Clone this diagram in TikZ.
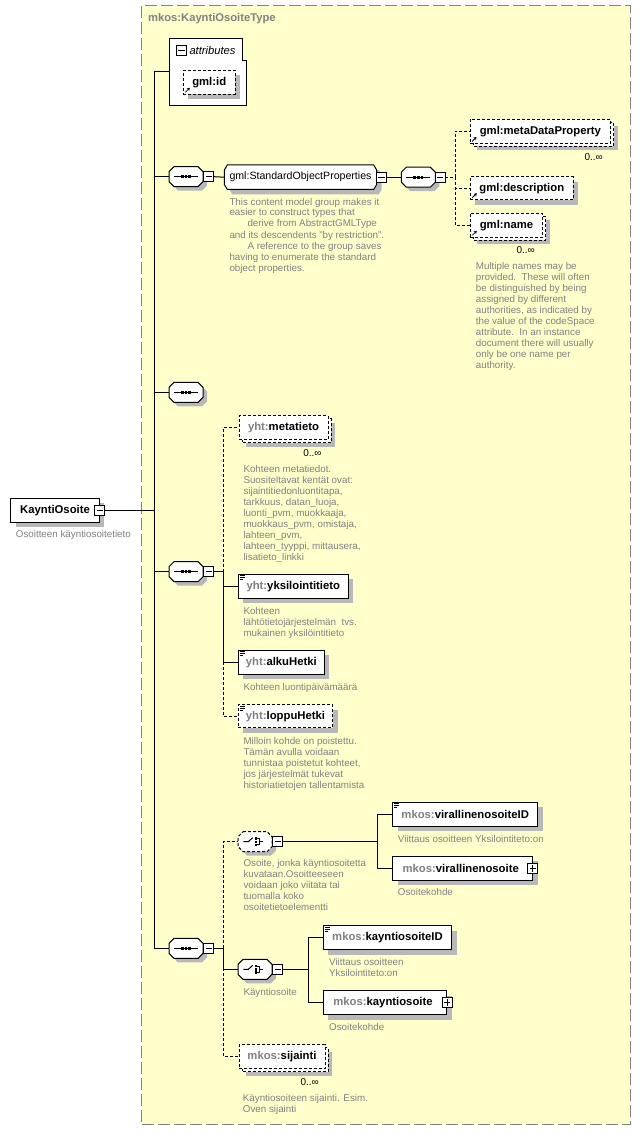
\documentclass[tikz,border=0pt]{standalone}
\usepackage{fontspec}
\setmainfont{Liberation Sans}
\usetikzlibrary{arrows.meta,calc}
\definecolor{bgy}{RGB}{255,255,204}
\definecolor{framec}{RGB}{128,128,128}
\definecolor{pfxc}{RGB}{128,128,128}
\definecolor{descc}{RGB}{128,128,128}
\definecolor{shadowc}{RGB}{184,184,184}
\newcommand\pf[1]{\textcolor{pfxc}{#1}}
% octagon: opts, cx, cy, hw, hh, chx, chy
\newcommand\octo[7]{\path[#1] (#2-#4+#6,#3-#5) -- (#2+#4-#6,#3-#5) -- (#2+#4,#3-#5+#7) -- (#2+#4,#3+#5-#7) -- (#2+#4-#6,#3+#5) -- (#2-#4+#6,#3+#5) -- (#2-#4,#3+#5-#7) -- (#2-#4,#3-#5+#7) -- cycle;}
% compositor: name, cx, cy, extra options
\newcommand\compo[4]{%
  \octo{fill=shadowc}{#2+4}{#3+4}{17}{10}{5}{5}
  \octo{draw,fill=white,line width=1pt,#4}{#2}{#3}{17}{10}{5}{5}
  \node[hid] (#1) at (#2,#3) {};}
% element box with shadow: style, name, cx, cy, w, h, text
\newcommand\elem[7]{%
  \fill[shadowc] (#3-#5/2+5,#4-#6/2+5) rectangle (#3+#5/2+5,#4+#6/2+5);
  \node[#1, minimum width=#5pt, minimum height=#6pt] (#2) at (#3,#4) {#7};}
% repeating (stacked) optional element: name, cx, cy, w, h, text
\newcommand\melem[6]{%
  \fill[shadowc] (#2-#4/2+7,#3-#5/2+7) rectangle (#2+#4/2+7,#3+#5/2+7);
  \draw[fill=white, line width=1pt, dash pattern=on 3pt off 2pt] (#2-#4/2+3,#3-#5/2+3) rectangle (#2+#4/2+3,#3+#5/2+3);
  \node[optbox, minimum width=#4pt, minimum height=#5pt] (#1) at (#2,#3) {#6};}
\newcommand\seqicon[2]{%
  \draw[line width=1pt] (#1-12,#2) -- (#1+12,#2);
  \fill (#1-5,#2-1.6) rectangle (#1-2.2,#2+1.6);
  \fill (#1-1.4,#2-1.6) rectangle (#1+1.4,#2+1.6);
  \fill (#1+2.2,#2-1.6) rectangle (#1+5,#2+1.6);}
\newcommand\choiceicon[2]{%
  \draw[line width=1pt] (#1-11.7,#2) -- (#1-6.7,#2) -- (#1-2.3,#2-4);
  \fill (#1-0.3,#2-4.3) rectangle (#1+2.3,#2-1.9);
  \fill (#1-0.3,#2-1.2) rectangle (#1+2.3,#2+1.2);
  \fill (#1-0.3,#2+1.9) rectangle (#1+2.3,#2+4.3);
  \draw[line width=0.8pt] (#1+2.3,#2-3.1) -- (#1+4.5,#2-3.1) -- (#1+4.5,#2+3.1) -- (#1+2.3,#2+3.1);
  \draw[line width=1pt] (#1+4.5,#2) -- (#1+7.7,#2);}
\newcommand\minustog[3]{\node[tog] (#1) at (#2,#3) {};
  \draw[line width=0.8pt] ($(#1.center)+(-3.2,0)$) -- ($(#1.center)+(3.2,0)$);}
\newcommand\plustog[3]{\node[tog] (#1) at (#2,#3) {};
  \draw[line width=0.8pt] ($(#1.center)+(-3.2,0)$) -- ($(#1.center)+(3.2,0)$)
     ($(#1.center)+(0,-3.2)$) -- ($(#1.center)+(0,3.2)$);}
\newcommand\refarrow[1]{\draw[line width=0.8pt,-{Stealth[length=3pt,width=3.5pt]}] ($(#1.south west)+(2.5,-2.5)$) -- ++(4.5,-4.5);}
\newcommand\simpicon[1]{\draw[line width=0.7pt] ($(#1.north west)+(2,2)$) -- ++(5,0) ($(#1.north west)+(2,4)$) -- ++(5,0) ($(#1.north west)+(2,6)$) -- ++(3,0);}
\begin{document}
\begin{tikzpicture}[x=1pt,y=-1pt,
  conn/.style={line width=1pt},
  dconn/.style={line width=1pt, dash pattern=on 3pt off 2pt},
  efont/.style={font=\bfseries\fontsize{11.3}{13}\selectfont},
  elembox/.style={draw, fill=white, line width=1pt, inner sep=0pt, efont},
  optbox/.style={elembox, dash pattern=on 3pt off 2pt},
  desc/.style={anchor=north west, inner sep=0pt, align=left, text=descc, font=\fontsize{9.8}{11}\selectfont},
  mult/.style={anchor=east, inner sep=0pt, font=\fontsize{10}{11}\selectfont},
  tog/.style={draw, fill=white, line width=0.8pt, minimum size=10pt, inner sep=0pt},
  hid/.style={inner sep=0pt, minimum width=34pt, minimum height=20pt},
  typeframe/.style={draw=framec, fill=bgy, line width=1pt, dash pattern=on 12pt off 4pt, inner sep=0pt}]
\useasboundingbox (0,0) rectangle (640,1131);
% type container
\node[typeframe, minimum width=488.3pt, minimum height=1119pt] (typebox) at (385.85,565.2) {};
\node[anchor=west, inner sep=0pt, text=pfxc, font=\bfseries\fontsize{11.2}{13}\selectfont] (title) at (148,18.8) {mkos:KayntiOsoiteType};
% root element
\elem{elembox}{ko}{55}{510.3}{88.6}{24}{KayntiOsoite}
\minustog{kmin}{99.7}{510.3}
\node[desc] (kodesc) at (15.7,530.3) {Osoitteen käyntiosoitetieto};
\coordinate (spine) at (154.3,510.3);
% attributes
\draw[fill=white, line width=1pt] (169.7,38.3) -- (242.7,38.3) -- (242.7,61) -- (246.7,61) -- (246.7,105.3) -- (169.7,105.3) -- cycle;
\node[inner sep=0pt, minimum width=77pt, minimum height=67pt] (attrs) at (208.2,71.8) {};
\minustog{attrm}{181.5}{50.5}
\node[anchor=west, inner sep=0pt, font=\itshape\fontsize{11.2}{13}\selectfont] (attrt) at (189.3,50.5) {attributes};
\elem{optbox}{gid}{209.2}{82.3}{51.7}{24}{gml:id}
\refarrow{gid}
% sequence 1
\compo{seq1}{186}{176.7}{}
\seqicon{186}{176.7}
\minustog{seq1m}{208.7}{176.7}
\octo{fill=shadowc}{305.5}{182.2}{76.2}{12.2}{3}{5}
\octo{draw,fill=white,line width=1pt}{300.5}{177.2}{76.2}{12.2}{3}{5}
\node[inner sep=0pt, minimum width=152.4pt, minimum height=24.4pt, font=\fontsize{10.6}{13}\selectfont] (sop) at (300.5,177.2) {gml:StandardObjectProperties};
\minustog{sopm}{381.3}{177.2}
\node[desc] (sopdesc) at (229.3,197.7) {This content model group makes it\\easier to construct types that\\\hspace*{18pt}derive from AbstractGMLType\\and its descendents "by restriction".\\\hspace*{18pt}A reference to the group saves\\having to enumerate the standard\\object properties.};
\compo{seq2}{418.3}{177.2}{}
\seqicon{418.3}{177.2}
\minustog{seq2m}{440}{177.2}
\coordinate (j2) at (455,177.2);
\melem{mdp}{540.4}{131.5}{140.7}{24}{gml:metaDataProperty}
\refarrow{mdp}
\node[mult] (mdpm) at (603,156.7) {0..∞};
\elem{optbox}{gdesc}{521.8}{188.2}{103}{23}{gml:description}
\refarrow{gdesc}
\melem{gname}{506.5}{225.3}{72.4}{24}{gml:name}
\refarrow{gname}
\node[mult] (gnamem) at (535,250) {0..∞};
\node[desc] (namedesc) at (475.7,261.7) {Multiple names may be\\provided.\ \ These will often\\be distinguished by being\\assigned by different\\authorities, as indicated by\\the value of the codeSpace\\attribute.\ \ In an instance\\document there will usually\\only be one name per\\authority.};
% sequence 3
\compo{seq3}{186}{392.3}{}
\seqicon{186}{392.3}
% sequence 4
\compo{seq4}{186}{571.7}{}
\seqicon{186}{571.7}
\minustog{seq4m}{208.7}{571.7}
\coordinate (j4) at (223,571.7);
\melem{meta}{283.5}{427.5}{89}{24}{\pf{yht:}metatieto}
\node[mult] (metam) at (321.7,453.3) {0..∞};
\node[desc] (metadesc) at (243.3,465) {Kohteen metatiedot.\\Suositeltavat kentät ovat:\\sijaintitiedonluontitapa,\\tarkkuus, datan\_luoja,\\luonti\_pvm, muokkaaja,\\muokkaus\_pvm, omistaja,\\lahteen\_pvm,\\lahteen\_tyyppi, mittausera,\\lisatieto\_linkki};
\elem{elembox}{yks}{293.3}{586.3}{110}{24}{\pf{yht:}yksilointitieto}
\simpicon{yks}
\node[desc] (yksdesc) at (243.3,606.7) {Kohteen\\lähtötietojärjestelmän\ \ tvs.\\mukainen yksilöintitieto};
\elem{elembox}{alku}{281.3}{662.2}{86}{24}{\pf{yht:}alkuHetki}
\simpicon{alku}
\node[desc] (alkudesc) at (243.3,682.7) {Kohteen luontipäivämäärä};
\elem{optbox}{loppu}{285.5}{716.4}{94.4}{23}{\pf{yht:}loppuHetki}
\simpicon{loppu}
\node[desc] (loppudesc) at (243.3,736.7) {Milloin kohde on poistettu.\\Tämän avulla voidaan\\tunnistaa poistetut kohteet,\\jos järjestelmät tukevat\\historiatietojen tallentamista};
\coordinate (j4b) at (223,662.2);
% sequence 5
\compo{seq5}{186}{948.3}{}
\seqicon{186}{948.3}
\minustog{seq5m}{208.7}{948.3}
\coordinate (j5) at (223.3,948.3);
\compo{ch1}{255}{841.7}{dash pattern=on 3pt off 2pt}
\choiceicon{255}{841.7}
\minustog{ch1m}{277.7}{841.7}
\node[desc] (ch1desc) at (243.3,859.3) {Osoite, jonka käyntiosoitetta\\kuvataan.Osoitteeseen\\voidaan joko viitata tai\\tuomalla koko\\osoitetietoelementti};
\coordinate (j6) at (377.7,841.7);
\elem{elembox}{vid}{465.2}{814.2}{145}{24}{\pf{mkos:}virallinenosoiteID}
\simpicon{vid}
\node[desc] (viddesc) at (397.7,834.7) {Viittaus osoitteen Yksilointiteto:on};
\elem{elembox}{vos}{462.7}{868.3}{140}{24}{\pf{mkos:}virallinenosoite\hspace*{4pt}}
\plustog{vosp}{532.7}{868.3}
\node[desc] (vosdesc) at (397.7,888.3) {Osoitekohde};
\compo{ch2}{255}{969.3}{}
\choiceicon{255}{969.3}
\minustog{ch2m}{277.7}{969.3}
\node[desc] (ch2desc) at (243.3,987.7) {Käyntiosoite};
\coordinate (j7) at (308.3,969.3);
\elem{elembox}{kid}{387.5}{937.5}{128.4}{24}{\pf{mkos:}kayntiosoiteID}
\simpicon{kid}
\node[desc] (kiddesc) at (329,957.7) {Viittaus osoitteen\\Yksilointiteto:on};
\elem{elembox}{kos}{385}{1002.5}{123.4}{24}{\pf{mkos:}kayntiosoite\hspace*{4pt}}
\plustog{kosp}{447}{1002.5}
\node[desc] (kosdesc) at (329,1022.7) {Osoitekohde};
\melem{sij}{282}{1056.5}{86}{24}{\pf{mkos:}sijainti}
\node[mult] (sijm) at (319,1082.3) {0..∞};
\node[desc] (sijdesc) at (242.7,1093.7) {Käyntiosoiteen sijainti. Esim.\\Oven sijainti};
% connectors
\draw[conn] (kmin.east) -- (spine);
\draw[conn] (attrs.west) -| (spine);
\draw[conn] (spine) |- (seq1.west);
\draw[conn] (spine) |- (seq3.west);
\draw[conn] (spine) |- (seq4.west);
\draw[conn] (spine) |- (seq5.west);
\draw[conn] (seq1m.east) -- (sop.west);
\draw[conn] (sopm.east) -- (seq2.west);
\draw[dconn] (seq2m.east) -- (j2);
\draw[dconn] (j2) |- (mdp.west);
\draw[dconn] (j2) |- (gdesc.west);
\draw[dconn] (j2) |- (gname.west);
\draw[conn] (seq4m.east) -- (j4);
\draw[dconn] (j4) |- (meta.west);
\draw[conn] (j4) |- (yks.west);
\draw[conn] (j4) |- (alku.west);
\draw[dconn] (j4b) |- (loppu.west);
\draw[conn] (seq5m.east) -- (j5);
\draw[dconn] (j5) |- (ch1.west);
\draw[conn] (j5) |- (ch2.west);
\draw[dconn] (j5) |- (sij.west);
\draw[conn] (ch1m.east) -- (j6);
\draw[conn] (j6) |- (vid.west);
\draw[conn] (j6) |- (vos.west);
\draw[conn] (ch2m.east) -- (j7);
\draw[conn] (j7) |- (kid.west);
\draw[conn] (j7) |- (kos.west);
\end{tikzpicture}
\end{document}
